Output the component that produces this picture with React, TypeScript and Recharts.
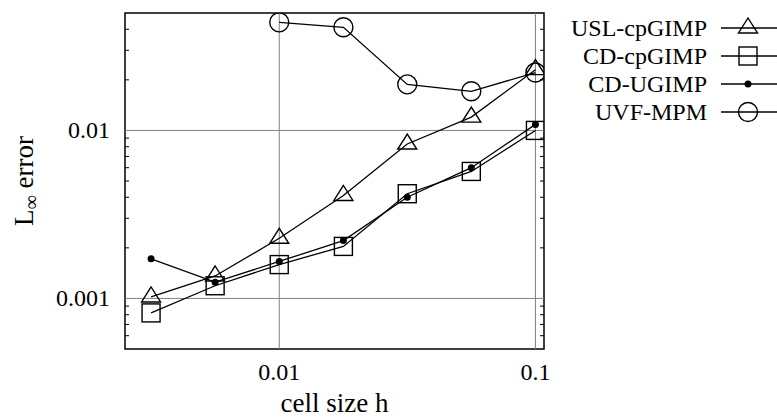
import { LineChart, Line, XAxis, YAxis, ReferenceLine, ReferenceArea, Legend } from "recharts";

// cell size h on the x axis, L-infinity error per method
const cellSizes = [0.1, 0.0562, 0.0316, 0.0178, 0.01, 0.00562, 0.00316];
const uslCpGimp = [0.023, 0.012, 0.0083, 0.0041, 0.00228, 0.00136, 0.00102];
const cdCpGimp = [0.01, 0.0057, 0.0042, 0.00204, 0.00159, 0.00119, 0.00082];
const cdUGimp = [0.01086, 0.006, 0.004, 0.00221, 0.00166, 0.00125, 0.00172];
const uvfMpm = [0.0221, 0.0171, 0.0188, 0.0411, 0.044];

const seriesNames = ["USL-cpGIMP", "CD-cpGIMP", "CD-UGIMP", "UVF-MPM"];

const xTicks = [0.01, 0.1];
const yMajorTicks = [0.001, 0.01];
const yMinorTicks = [
    0.0006, 0.0007, 0.0008, 0.0009,
    0.002, 0.003, 0.004, 0.005, 0.006, 0.007, 0.008, 0.009,
    0.02, 0.03, 0.04,
];
const yTicks = [...yMinorTicks, ...yMajorTicks].sort((a, b) => a - b);

const FONT = "'Liberation Serif', 'Times New Roman', serif";
const INK = "#000";

const toPoints = (values: number[]) => values.map((err, i) => ({ h: cellSizes[i], err }));

type Marker = "triangle" | "square" | "dot" | "circle";

function MarkerShape({ kind, cx, cy }: { kind: Marker; cx: number; cy: number }) {
    if (kind === "triangle") {
        return (
            <polygon
                points={`${cx},${cy - 10} ${cx - 9.5},${cy + 5} ${cx + 9.5},${cy + 5}`}
                fill="none"
                stroke={INK}
                strokeWidth={1.4}
            />
        );
    }
    if (kind === "square") {
        return <rect x={cx - 9} y={cy - 9} width={18} height={18} fill="none" stroke={INK} strokeWidth={1.4} />;
    }
    if (kind === "dot") {
        return <circle cx={cx} cy={cy} r={3.5} fill={INK} />;
    }
    return <circle cx={cx} cy={cy} r={9.5} fill="none" stroke={INK} strokeWidth={1.4} />;
}

const markerFor: Record<string, Marker> = {
    "USL-cpGIMP": "triangle",
    "CD-cpGIMP": "square",
    "CD-UGIMP": "dot",
    "UVF-MPM": "circle",
};

const dotOf = (kind: Marker) => (props: any) => (
    <MarkerShape key={`${kind}-${props.index}`} kind={kind} cx={props.cx} cy={props.cy} />
);

function LeftTick(props: any) {
    const { x, y, payload } = props;
    const v = payload.value;
    if (yMajorTicks.includes(v)) {
        return (
            <text x={x - 15} y={y + 8} textAnchor="end" fontSize={24} fontFamily={FONT} fill={INK}>
                {String(v)}
            </text>
        );
    }
    return <line x1={x} x2={x + 4} y1={y} y2={y} stroke={INK} strokeWidth={1} />;
}

function RightTick(props: any) {
    const { x, y, payload } = props;
    if (yMajorTicks.includes(payload.value)) return <g />;
    return <line x1={x} x2={x - 4} y1={y} y2={y} stroke={INK} strokeWidth={1} />;
}

function BottomTick(props: any) {
    const { x, y, payload } = props;
    return (
        <text x={x} y={y + 31} textAnchor="middle" fontSize={24} fontFamily={FONT} fill={INK}>
            {String(payload.value)}
        </text>
    );
}

function renderXLabel(props: any) {
    const { x, y, width } = props.viewBox;
    return (
        <text x={x + width / 2} y={y + 63} textAnchor="middle" fontSize={27} fontFamily={FONT} fill={INK}>
            cell size h
        </text>
    );
}

function renderYLabel(props: any) {
    const { y, height } = props.viewBox;
    const cx = 33;
    const cy = y + height / 2;
    return (
        <text
            x={cx}
            y={cy}
            transform={`rotate(-90, ${cx}, ${cy})`}
            textAnchor="middle"
            fontSize={27}
            fontFamily={FONT}
            fill={INK}
        >
            L<tspan dy={5} fontSize={20}>∞</tspan>
            <tspan dy={-5}> error</tspan>
        </text>
    );
}

function renderLegend(props: any) {
    const entries = [...(props.payload || [])].sort(
        (a: any, b: any) => seriesNames.indexOf(a.value) - seriesNames.indexOf(b.value)
    );
    return (
        <svg width={237} height={130} style={{ display: "block" }}>
            {entries.map((entry: any, i: number) => {
                const y = 28 + i * 28;
                return (
                    <g key={entry.value}>
                        <text x={167} y={y + 8} textAnchor="end" fontSize={24} fontFamily={FONT} fill={INK}>
                            {entry.value}
                        </text>
                        <line x1={181} x2={237} y1={y} y2={y} stroke={INK} strokeWidth={1.4} />
                        <MarkerShape kind={markerFor[entry.value]} cx={208} cy={y} />
                    </g>
                );
            })}
        </svg>
    );
}

export default function App() {
    return (
        <div style={{ width: 777, height: 418, position: "relative", background: "#fff", fontFamily: FONT }}>
            <style>{"body{margin:0}"}</style>
            <LineChart width={777} height={418} margin={{ top: 13, right: 232, bottom: 0, left: 15 }}>
                <XAxis
                    dataKey="h"
                    type="number"
                    scale="log"
                    domain={[0.0025, 0.108]}
                    allowDataOverflow
                    ticks={xTicks}
                    interval={0}
                    axisLine={false}
                    tickLine={false}
                    tickSize={0}
                    tickMargin={0}
                    tick={BottomTick}
                    height={69}
                    label={renderXLabel}
                />
                <YAxis
                    type="number"
                    scale="log"
                    domain={[0.0005, 0.05]}
                    allowDataOverflow
                    ticks={yTicks}
                    interval={0}
                    axisLine={false}
                    tickLine={false}
                    tickSize={0}
                    tickMargin={0}
                    tick={LeftTick}
                    width={110}
                    label={renderYLabel}
                />
                <YAxis
                    yAxisId="right"
                    orientation="right"
                    type="number"
                    scale="log"
                    domain={[0.0005, 0.05]}
                    allowDataOverflow
                    ticks={yTicks}
                    interval={0}
                    axisLine={false}
                    tickLine={false}
                    tickSize={0}
                    tickMargin={0}
                    tick={RightTick}
                    width={1}
                />
                {xTicks.map((v) => (
                    <ReferenceLine key={`gx${v}`} x={v} stroke="#808080" strokeWidth={1} />
                ))}
                {yMajorTicks.map((v) => (
                    <ReferenceLine key={`gy${v}`} y={v} stroke="#808080" strokeWidth={1} />
                ))}
                <ReferenceArea
                    x1={0.0025}
                    x2={0.108}
                    y1={0.0005}
                    y2={0.05}
                    fill="none"
                    fillOpacity={0}
                    stroke={INK}
                    strokeWidth={1.5}
                    ifOverflow="visible"
                />
                <Line
                    data={toPoints(uslCpGimp)}
                    dataKey="err"
                    name="USL-cpGIMP"
                    stroke={INK}
                    strokeWidth={1.3}
                    dot={dotOf("triangle")}
                    activeDot={false}
                    isAnimationActive={false}
                />
                <Line
                    data={toPoints(cdCpGimp)}
                    dataKey="err"
                    name="CD-cpGIMP"
                    stroke={INK}
                    strokeWidth={1.3}
                    dot={dotOf("square")}
                    activeDot={false}
                    isAnimationActive={false}
                />
                <Line
                    data={toPoints(cdUGimp)}
                    dataKey="err"
                    name="CD-UGIMP"
                    stroke={INK}
                    strokeWidth={1.3}
                    dot={dotOf("dot")}
                    activeDot={false}
                    isAnimationActive={false}
                />
                <Line
                    data={toPoints(uvfMpm)}
                    dataKey="err"
                    name="UVF-MPM"
                    stroke={INK}
                    strokeWidth={1.3}
                    dot={dotOf("circle")}
                    activeDot={false}
                    isAnimationActive={false}
                />
                <Legend
                    layout="vertical"
                    align="center"
                    verticalAlign="middle"
                    content={renderLegend}
                    wrapperStyle={{ position: "absolute", left: 540, top: 0, width: 237, height: 130 }}
                />
            </LineChart>
        </div>
    );
}
